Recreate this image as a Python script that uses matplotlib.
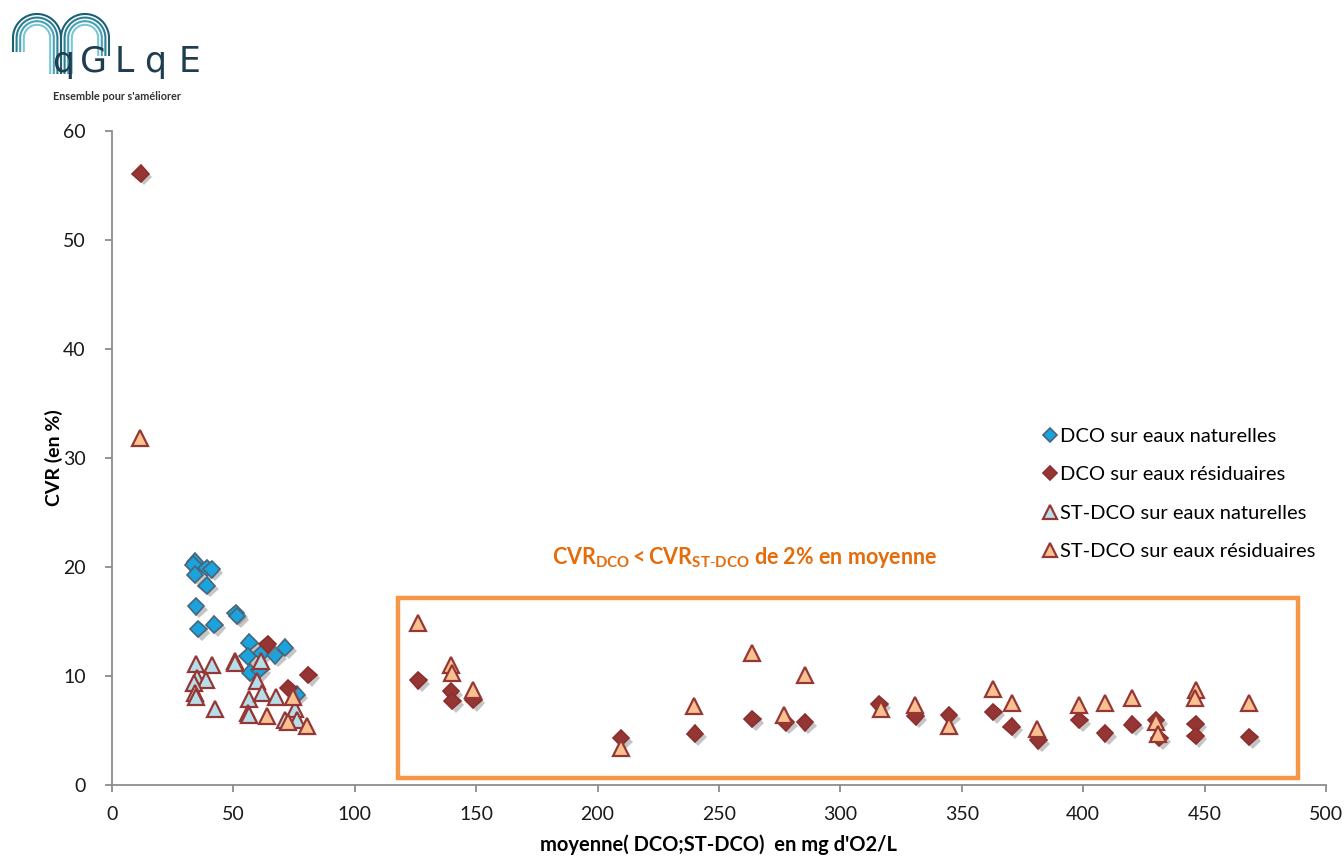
import numpy as np
import matplotlib
matplotlib.use("Agg")
import matplotlib.pyplot as plt
import matplotlib.patheffects as pe
from matplotlib.lines import Line2D
from matplotlib.patches import Rectangle

plt.rcParams['font.family'] = ['Lato', 'DejaVu Sans']
plt.rcParams['mathtext.fontset'] = 'custom'
plt.rcParams['mathtext.rm'] = 'Lato'
plt.rcParams['mathtext.bf'] = 'Lato:bold'
plt.rcParams['mathtext.it'] = 'Lato:italic'

# DCO on natural waters
dco_nat_x = [34.2, 33.5, 34.2, 39.0, 41.0, 39.0, 34.6, 51.0, 51.5, 35.5, 42.1,
             56.6, 71.3, 55.9, 61.6, 67.1, 56.8, 60.7, 76.0]
dco_nat_y = [20.5, 20.2, 19.3, 19.9, 19.8, 18.3, 16.4, 15.75, 15.5, 14.3, 14.7,
             13.05, 12.6, 11.8, 12.1, 11.9, 10.3, 10.55, 8.3]

# DCO on waste waters
dco_res_x = [11.8, 64.1, 80.9, 72.6, 126.2, 139.6, 140.2, 148.8, 209.6, 240.1,
             263.7, 277.5, 285.4, 316.0, 331.0, 344.7, 363.0, 370.5, 381.5,
             398.4, 409.0, 420.2, 430.0, 431.3, 446.3, 446.3, 468.4]
dco_res_y = [56.1, 12.9, 10.1, 8.9, 9.6, 8.6, 7.7, 7.8, 4.3, 4.7,
             6.05, 5.75, 5.75, 7.4, 6.3, 6.4, 6.7, 5.35, 4.1,
             5.95, 4.75, 5.55, 5.95, 4.3, 5.6, 4.5, 4.4]

# ST-DCO on natural waters
st_nat_x = [34.5, 41.3, 50.7, 50.7, 61.4, 35.1, 38.7, 33.9, 34.2, 34.4,
            59.6, 42.4, 56.6, 61.6, 67.5, 56.2, 56.4, 75.4, 71.2, 76.0]
st_nat_y = [11.1, 11.0, 11.4, 11.2, 11.4, 9.85, 9.6, 9.4, 8.4, 8.1,
            9.5, 6.95, 7.9, 8.4, 8.1, 6.6, 6.4, 7.0, 6.0, 6.0]

# ST-DCO on waste waters
st_res_x = [11.5, 74.7, 64.0, 72.4, 80.4, 125.9, 139.6, 139.9, 148.8, 209.5,
            239.8, 263.5, 276.9, 285.4, 316.6, 330.7, 344.7, 363.0, 370.5,
            381.1, 398.4, 409.0, 420.2, 429.8, 430.9, 446.3, 446.0, 468.4]
st_res_y = [31.8, 8.1, 6.3, 5.8, 5.4, 14.9, 11.0, 10.3, 8.7, 3.4,
            7.25, 12.1, 6.4, 10.1, 7.0, 7.3, 5.4, 8.8, 7.5,
            5.1, 7.3, 7.5, 8.0, 5.8, 4.7, 8.7, 7.95, 7.55]

labels = ['DCO sur eaux naturelles', 'DCO sur eaux résiduaires',
          'ST-DCO sur eaux naturelles', 'ST-DCO sur eaux résiduaires']

fig = plt.figure(figsize=(13.44, 8.56), dpi=100)
ax = fig.add_axes([112/1344, 71/856, 1214/1344, 654/856])

shadow = [pe.SimplePatchShadow(offset=(2.5, -2.5), shadow_rgbFace='#808080', alpha=0.45),
          pe.Normal()]

ax.plot(dco_nat_x, dco_nat_y, linestyle='none', marker='D', ms=8.5,
        mfc='#1aa3dd', mec='#4a6478', mew=1.2, path_effects=shadow, zorder=3)
ax.plot(dco_res_x, dco_res_y, linestyle='none', marker='D', ms=8.5,
        mfc='#963634', mec='#8a2f2d', mew=1.2, path_effects=shadow, zorder=3)
ax.plot(st_nat_x, st_nat_y, linestyle='none', marker='^', ms=11,
        mfc='#b7dee8', mec='#953735', mew=1.6, zorder=4)
ax.plot(st_res_x, st_res_y, linestyle='none', marker='^', ms=11,
        mfc='#fac090', mec='#953735', mew=1.6, zorder=4)

# box around the waste-water points above 100 mg/L
ax.add_patch(Rectangle((117.8, 0.65), 370.7, 16.55, fill=False,
                       edgecolor='#f79646', linewidth=3.2, zorder=2))
ax.text(260.5, 20.9, r'$\mathbf{CVR_{DCO}<CVR_{ST\text{-}DCO}}$' + ' de 2% en moyenne',
        color='#e46c0a', fontsize=15.5, fontweight='bold', ha='center', va='center')

ax.set_xlim(0, 500)
ax.set_ylim(0, 60)
ax.set_xticks(np.arange(0, 501, 50))
ax.set_yticks(np.arange(0, 61, 10))
for s in ['top', 'right']:
    ax.spines[s].set_visible(False)
for s in ['left', 'bottom']:
    ax.spines[s].set_color('#8c8c8c')
    ax.spines[s].set_linewidth(1.3)
ax.tick_params(axis='both', direction='out', length=5, color='#8c8c8c',
               width=1.3, labelsize=14, labelcolor='#1a1a1a')
ax.tick_params(axis='x', pad=10)
ax.tick_params(axis='y', pad=14)
ax.set_xlabel("moyenne( DCO;ST-DCO)  en mg d'O2/L", fontsize=14.5,
              fontweight='bold', labelpad=8)
ax.set_ylabel('CVR (en %)', fontsize=14, fontweight='bold', labelpad=0)

handles = [
    Line2D([], [], linestyle='none', marker='D', ms=8, mfc='#1aa3dd', mec='#4a6478', mew=1.2),
    Line2D([], [], linestyle='none', marker='D', ms=8, mfc='#963634', mec='#8a2f2d', mew=1.2),
    Line2D([], [], linestyle='none', marker='^', ms=11, mfc='#b7dee8', mec='#953735', mew=1.6),
    Line2D([], [], linestyle='none', marker='^', ms=11, mfc='#fac090', mec='#953735', mew=1.6),
]
fig.legend(handles, labels, loc='upper left', bbox_to_anchor=(1026/1344, 1 - 410/856),
           frameon=False, fontsize=14.5, handlelength=0.6, handletextpad=0.2,
           labelspacing=1.05, markerscale=0.95)

# logo
lg = fig.add_axes([0, 1 - 110/856, 230/1344, 110/856])
lg.set_xlim(0, 230)
lg.set_ylim(110, 0)
lg.axis('off')
arch_cols = ['#1d5f74', '#2b7f95', '#45a2b6', '#7cc6d6']
for k, c in enumerate(arch_cols):
    r = 24 - 3.6 * k
    t = np.linspace(np.pi, 0, 60)
    for cx, legs in [(37, (52, 74)), (85, (74, 56))]:
        xs = np.concatenate([[cx - r], cx + r * np.cos(t), [cx + r]])
        ys = np.concatenate([[legs[0]], 38 - r * np.sin(t), [legs[1]]])
        lg.plot(xs, ys, color=c, lw=1.5, solid_capstyle='butt')
for ch, xc in zip('qGLqE', [63, 93, 124, 155, 190]):
    lg.text(xc, 62, ch, fontsize=25, color='#1f3d4f', ha='center', va='center',
            family='DejaVu Sans')
lg.text(117, 97, "Ensemble pour s'améliorer", fontsize=7.8, color='#333333',
        ha='center', va='center', fontweight='bold')

fig.savefig('out.png', dpi=100)
